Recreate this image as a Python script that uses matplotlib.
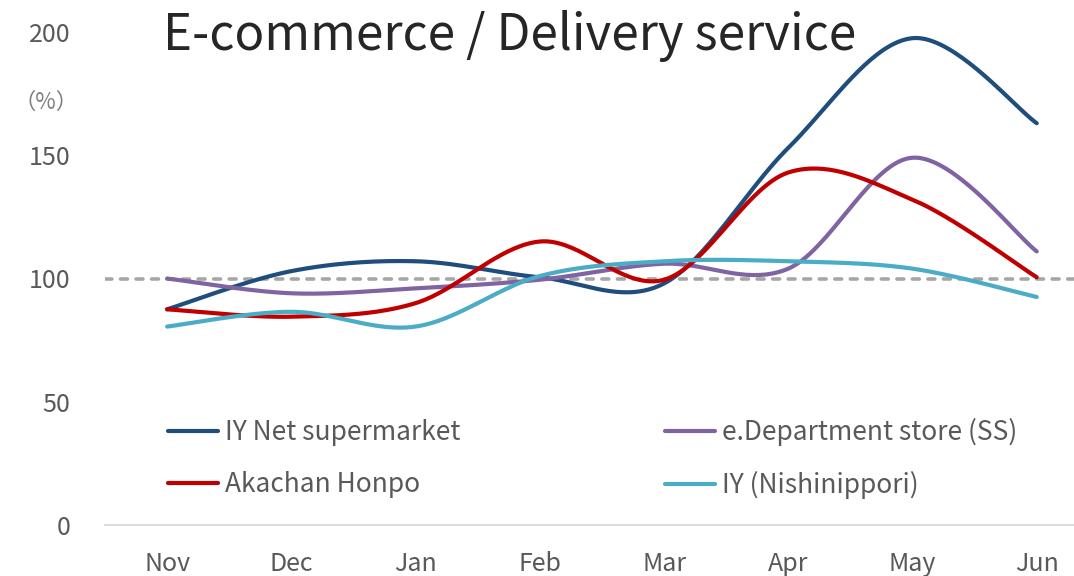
import numpy as np
import matplotlib
matplotlib.use("Agg")
import matplotlib.pyplot as plt

plt.rcParams['font.family'] = ['Noto Sans CJK JP', 'DejaVu Sans']

months = ["Nov", "Dec", "Jan", "Feb", "Mar", "Apr", "May", "Jun"]
iy_net = [87.5, 103, 107, 100.5, 98, 153, 197.5, 163]
e_dept = [100, 94, 96, 99.5, 106, 104, 149, 111]
akachan = [87.5, 84.5, 90, 115, 99.5, 143, 132, 100.5]
iy_nishi = [80.5, 86.5, 80.5, 101, 107, 107, 104, 92.5]
series_names = ["IY Net supermarket", "e.Department store (SS)", "Akachan Honpo", "IY (Nishinippori)"]
series_values = [iy_net, e_dept, akachan, iy_nishi]
colors = ["#1F4E7D", "#8064A2", "#C00000", "#4BACC6"]
yticks = [0, 50, 100, 150, 200]
baseline = 100


def smooth(xs, ys, n=40):
    pts = np.column_stack([xs, ys]).astype(float)
    m = len(pts)
    out = []
    t = np.linspace(0, 1, n)[:, None]
    for i in range(m - 1):
        p0 = pts[max(i - 1, 0)]
        p1 = pts[i]
        p2 = pts[i + 1]
        p3 = pts[min(i + 2, m - 1)]
        c1 = p1 + (p2 - p0) / 6.0
        c2 = p2 - (p3 - p1) / 6.0
        b = ((1 - t) ** 3) * p1 + 3 * ((1 - t) ** 2) * t * c1 + 3 * (1 - t) * t ** 2 * c2 + t ** 3 * p2
        out.append(b if i == 0 else b[1:])
    arr = np.vstack(out)
    return arr[:, 0], arr[:, 1]


W, H = 1074, 576
fig = plt.figure(figsize=(W / 100, H / 100), dpi=100)
left = 105 / W
bottom = 1 - 525 / H
top = 1 - 32 / H
ax = fig.add_axes([left, bottom, 1 - left, top - bottom])

x = np.arange(len(months))
ax.axhline(baseline, color="#A6A6A6", lw=2.6, dashes=(1.9, 2.4),
           dash_capstyle="round", zorder=1)

handles = []
for name, vals, c in zip(series_names, series_values, colors):
    sx, sy = smooth(x, vals)
    ln, = ax.plot(sx, sy, color=c, lw=3.0, solid_capstyle="round", zorder=2, label=name)
    handles.append(ln)

ax.set_xlim(-0.5, 7.3)
ax.set_ylim(0, 200)
ax.set_xticks(x)
ax.set_xticklabels(months)
ax.set_yticks(yticks)
for s in ["top", "right", "left"]:
    ax.spines[s].set_visible(False)
ax.spines["bottom"].set_color("#D9D9D9")
ax.spines["bottom"].set_linewidth(1.3)
ax.tick_params(axis="both", length=0, labelcolor="#595959", labelsize=18)
ax.tick_params(axis="x", pad=19)
ax.tick_params(axis="y", pad=25)

fig.text(163 / W, 1 - 36 / H, "E-commerce / Delivery service", fontsize=35.5,
         color="#262626", ha="left", va="center")
fig.text(46 / W, 1 - 102 / H, "（%）", fontsize=16, color="#7F7F7F",
         ha="center", va="center")

leg_kw = dict(loc="center left", frameon=False, fontsize=19, borderpad=0,
              borderaxespad=0, handlelength=1.9, handletextpad=0.25,
              labelspacing=0.95, labelcolor="#595959",
              bbox_transform=fig.transFigure)
leg1 = ax.legend([handles[0], handles[2]], [series_names[0], series_names[2]],
                 bbox_to_anchor=(168 / W, 1 - 458.5 / H), **leg_kw)
ax.add_artist(leg1)
leg2 = ax.legend([handles[1], handles[3]], [series_names[1], series_names[3]],
                 bbox_to_anchor=(665 / W, 1 - 458.5 / H), **leg_kw)

fig.savefig("out.png", dpi=100)
